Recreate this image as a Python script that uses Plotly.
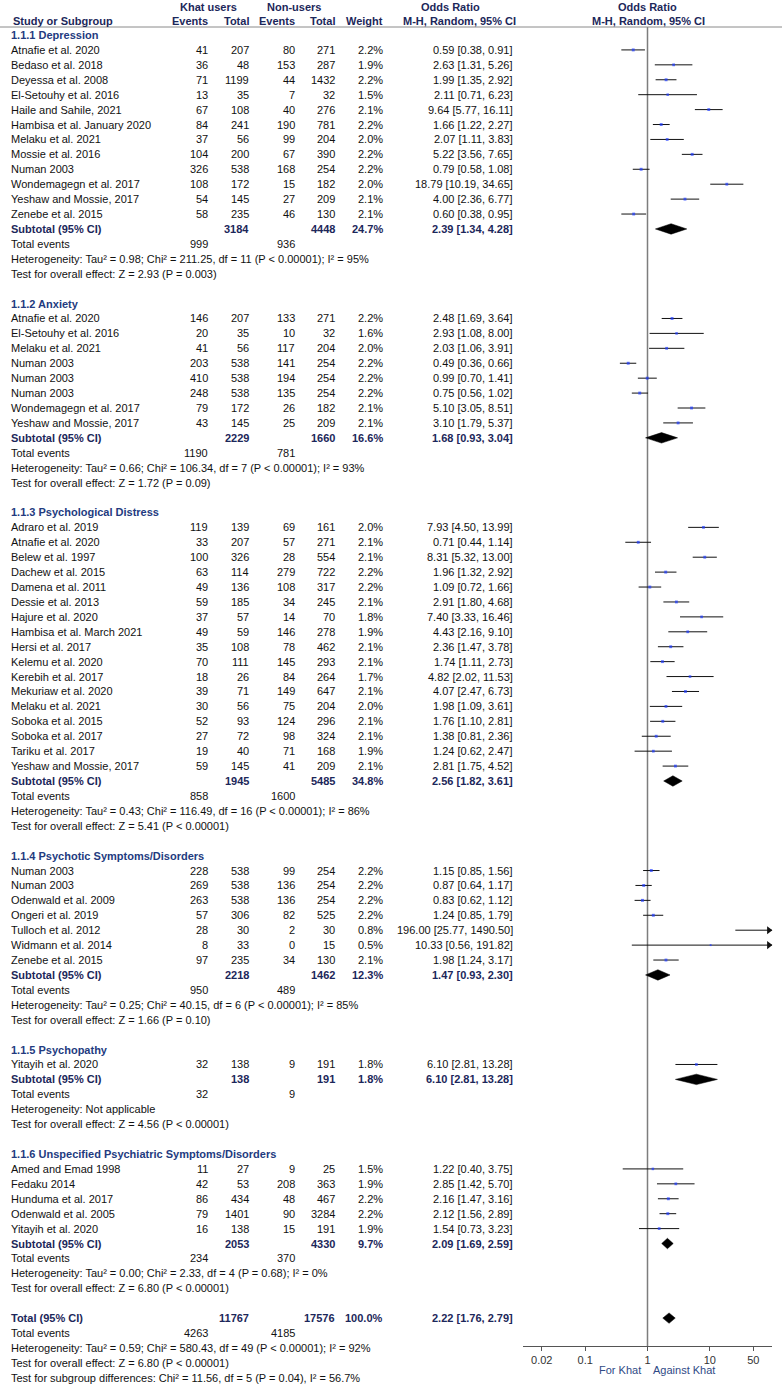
import plotly.graph_objects as go

# ---------------- DATA ----------------
# (study, khat events, khat total, non-user events, non-user total, weight %, OR, lower, upper)
dep_rows = [
    ("Atnafie et al. 2020", 41, 207, 80, 271, 2.2, 0.59, 0.38, 0.91),
    ("Bedaso et al. 2018", 36, 48, 153, 287, 1.9, 2.63, 1.31, 5.26),
    ("Deyessa et al. 2008", 71, 1199, 44, 1432, 2.2, 1.99, 1.35, 2.92),
    ("El-Setouhy et al. 2016", 13, 35, 7, 32, 1.5, 2.11, 0.71, 6.23),
    ("Haile and Sahile, 2021", 67, 108, 40, 276, 2.1, 9.64, 5.77, 16.11),
    ("Hambisa et al. January 2020", 84, 241, 190, 781, 2.2, 1.66, 1.22, 2.27),
    ("Melaku et al. 2021", 37, 56, 99, 204, 2.0, 2.07, 1.11, 3.83),
    ("Mossie et al. 2016", 104, 200, 67, 390, 2.2, 5.22, 3.56, 7.65),
    ("Numan 2003", 326, 538, 168, 254, 2.2, 0.79, 0.58, 1.08),
    ("Wondemagegn et al. 2017", 108, 172, 15, 182, 2.0, 18.79, 10.19, 34.65),
    ("Yeshaw and Mossie, 2017", 54, 145, 27, 209, 2.1, 4.00, 2.36, 6.77),
    ("Zenebe et al. 2015", 58, 235, 46, 130, 2.1, 0.60, 0.38, 0.95),
]
anx_rows = [
    ("Atnafie et al. 2020", 146, 207, 133, 271, 2.2, 2.48, 1.69, 3.64),
    ("El-Setouhy et al. 2016", 20, 35, 10, 32, 1.6, 2.93, 1.08, 8.00),
    ("Melaku et al. 2021", 41, 56, 117, 204, 2.0, 2.03, 1.06, 3.91),
    ("Numan 2003", 203, 538, 141, 254, 2.2, 0.49, 0.36, 0.66),
    ("Numan 2003", 410, 538, 194, 254, 2.2, 0.99, 0.70, 1.41),
    ("Numan 2003", 248, 538, 135, 254, 2.2, 0.75, 0.56, 1.02),
    ("Wondemagegn et al. 2017", 79, 172, 26, 182, 2.1, 5.10, 3.05, 8.51),
    ("Yeshaw and Mossie, 2017", 43, 145, 25, 209, 2.1, 3.10, 1.79, 5.37),
]
pd_rows = [
    ("Adraro et al. 2019", 119, 139, 69, 161, 2.0, 7.93, 4.50, 13.99),
    ("Atnafie et al. 2020", 33, 207, 57, 271, 2.1, 0.71, 0.44, 1.14),
    ("Belew et al. 1997", 100, 326, 28, 554, 2.1, 8.31, 5.32, 13.00),
    ("Dachew et al. 2015", 63, 114, 279, 722, 2.2, 1.96, 1.32, 2.92),
    ("Damena et al. 2011", 49, 136, 108, 317, 2.2, 1.09, 0.72, 1.66),
    ("Dessie et al. 2013", 59, 185, 34, 245, 2.1, 2.91, 1.80, 4.68),
    ("Hajure et al. 2020", 37, 57, 14, 70, 1.8, 7.40, 3.33, 16.46),
    ("Hambisa et al. March 2021", 49, 59, 146, 278, 1.9, 4.43, 2.16, 9.10),
    ("Hersi et al. 2017", 35, 108, 78, 462, 2.1, 2.36, 1.47, 3.78),
    ("Kelemu et al. 2020", 70, 111, 145, 293, 2.1, 1.74, 1.11, 2.73),
    ("Kerebih et al. 2017", 18, 26, 84, 264, 1.7, 4.82, 2.02, 11.53),
    ("Mekuriaw et al. 2020", 39, 71, 149, 647, 2.1, 4.07, 2.47, 6.73),
    ("Melaku et al. 2021", 30, 56, 75, 204, 2.0, 1.98, 1.09, 3.61),
    ("Soboka et al. 2015", 52, 93, 124, 296, 2.1, 1.76, 1.10, 2.81),
    ("Soboka et al. 2017", 27, 72, 98, 324, 2.1, 1.38, 0.81, 2.36),
    ("Tariku et al. 2017", 19, 40, 71, 168, 1.9, 1.24, 0.62, 2.47),
    ("Yeshaw and Mossie, 2017", 59, 145, 41, 209, 2.1, 2.81, 1.75, 4.52),
]
psy_rows = [
    ("Numan 2003", 228, 538, 99, 254, 2.2, 1.15, 0.85, 1.56),
    ("Numan 2003", 269, 538, 136, 254, 2.2, 0.87, 0.64, 1.17),
    ("Odenwald et al. 2009", 263, 538, 136, 254, 2.2, 0.83, 0.62, 1.12),
    ("Ongeri et al. 2019", 57, 306, 82, 525, 2.2, 1.24, 0.85, 1.79),
    ("Tulloch et al. 2012", 28, 30, 2, 30, 0.8, 196.00, 25.77, 1490.50),
    ("Widmann et al. 2014", 8, 33, 0, 15, 0.5, 10.33, 0.56, 191.82),
    ("Zenebe et al. 2015", 97, 235, 34, 130, 2.1, 1.98, 1.24, 3.17),
]
pth_rows = [
    ("Yitayih et al. 2020", 32, 138, 9, 191, 1.8, 6.10, 2.81, 13.28),
]
uns_rows = [
    ("Amed and Emad 1998", 11, 27, 9, 25, 1.5, 1.22, 0.40, 3.75),
    ("Fedaku 2014", 42, 53, 208, 363, 1.9, 2.85, 1.42, 5.70),
    ("Hunduma et al. 2017", 86, 434, 48, 467, 2.2, 2.16, 1.47, 3.16),
    ("Odenwald et al. 2005", 79, 1401, 90, 3284, 2.2, 2.12, 1.56, 2.89),
    ("Yitayih et al. 2020", 16, 138, 15, 191, 1.9, 1.54, 0.73, 3.23),
]

group_titles = ["1.1.1 Depression", "1.1.2 Anxiety", "1.1.3 Psychological Distress",
                "1.1.4 Psychotic Symptoms/Disorders", "1.1.5 Psychopathy",
                "1.1.6 Unspecified Psychiatric Symptoms/Disorders"]
group_rows = [dep_rows, anx_rows, pd_rows, psy_rows, pth_rows, uns_rows]
sub_khat_total = [3184, 2229, 1945, 2218, 138, 2053]
sub_non_total = [4448, 1660, 5485, 1462, 191, 4330]
sub_weight = [24.7, 16.6, 34.8, 12.3, 1.8, 9.7]
sub_or = [2.39, 1.68, 2.56, 1.47, 6.10, 2.09]
sub_lo = [1.34, 0.93, 1.82, 0.93, 2.81, 1.69]
sub_hi = [4.28, 3.04, 3.61, 2.30, 13.28, 2.59]
sub_khat_events = [999, 1190, 858, 950, 32, 234]
sub_non_events = [936, 781, 1600, 489, 9, 370]
sub_heterogeneity = [
    "Heterogeneity: Tau² = 0.98; Chi² = 211.25, df = 11 (P < 0.00001); I² = 95%",
    "Heterogeneity: Tau² = 0.66; Chi² = 106.34, df = 7 (P < 0.00001); I² = 93%",
    "Heterogeneity: Tau² = 0.43; Chi² = 116.49, df = 16 (P < 0.00001); I² = 86%",
    "Heterogeneity: Tau² = 0.25; Chi² = 40.15, df = 6 (P < 0.00001); I² = 85%",
    "Heterogeneity: Not applicable",
    "Heterogeneity: Tau² = 0.00; Chi² = 2.33, df = 4 (P = 0.68); I² = 0%",
]
sub_overall = [
    "Test for overall effect: Z = 2.93 (P = 0.003)",
    "Test for overall effect: Z = 1.72 (P = 0.09)",
    "Test for overall effect: Z = 5.41 (P < 0.00001)",
    "Test for overall effect: Z = 1.66 (P = 0.10)",
    "Test for overall effect: Z = 4.56 (P < 0.00001)",
    "Test for overall effect: Z = 6.80 (P < 0.00001)",
]

total_khat_total, total_non_total, total_weight = 11767, 17576, 100.0
total_or, total_lo, total_hi = 2.22, 1.76, 2.79
total_khat_events, total_non_events = 4263, 4185
total_texts = [
    "Heterogeneity: Tau² = 0.59; Chi² = 580.43, df = 49 (P < 0.00001); I² = 92%",
    "Test for overall effect: Z = 6.80 (P < 0.00001)",
    "Test for subgroup differences: Chi² = 11.56, df = 5 (P = 0.04), I² = 56.7%",
]

axis_ticks = [0.02, 0.1, 1, 10, 50]
axis_ticktext = ["0.02", "0.1", "1", "10", "50"]

# ---------------- LAYOUT CONSTANTS ----------------
W, H = 782, 1384
ROW0_PX, ROW_PX = 35.0, 14.92
FONT = "Liberation Sans, Arial, sans-serif"
FS = 11
C_TXT = "#111111"
C_HEAD = "#1c275a"
C_GRP = "#233b80"
X_NAME, X_KE, X_KT, X_NE, X_NT, X_W, X_OR = 9, 210, 251, 297, 337, 385, 515
AX_LEFT_PX, AX_RIGHT_PX, AX_PX = 523, 772, 1346
RULE_PX = 27
LOGMIN, LOGMAX = -2.0, 2.0

annotations = []


def py(px):
    return (px - ROW0_PX) / ROW_PX


def txt(xpx, y, s, anchor="left", color=C_TXT, bold=False, yref="y"):
    annotations.append(dict(
        x=xpx / W, xref="paper", y=y, yref=yref, text=("<b>%s</b>" % s) if bold else s,
        xanchor=anchor, yanchor="middle", showarrow=False,
        font=dict(family=FONT, size=FS, color=color)))


def fmt_or(o, l, h):
    return "%.2f [%.2f, %.2f]" % (o, l, h)


ci_x, ci_y = [], []
pt_x, pt_y, pt_s = [], [], []
arr_x, arr_y = [], []
dia_x, dia_y = [], []


def diamond(idx, o, l, h):
    dia_x.extend([l, o, h, o, l, None])
    dia_y.extend([idx, idx - 0.35, idx, idx + 0.35, idx, None])


idx = 0
for g, rows in enumerate(group_rows):
    txt(X_NAME, idx, group_titles[g], color=C_GRP, bold=True)
    idx += 1
    for (name, ke, kt, ne, nt, w, o, l, h) in rows:
        txt(X_NAME, idx, name)
        txt(X_KE, idx, str(ke), "right")
        txt(X_KT, idx, str(kt), "right")
        txt(X_NE, idx, str(ne), "right")
        txt(X_NT, idx, str(nt), "right")
        txt(X_W, idx, "%.1f%%" % w, "right")
        txt(X_OR, idx, fmt_or(o, l, h), "right")
        ci_x.extend([l, h, None])
        ci_y.extend([idx, idx, None])
        if o <= 10 ** LOGMAX:
            pt_x.append(o)
            pt_y.append(idx)
            pt_s.append(1.6 + 0.6 * w)
        if h > 10 ** LOGMAX:
            arr_x.append(10 ** (LOGMAX - 0.05))
            arr_y.append(idx)
        idx += 1
    txt(X_NAME, idx, "Subtotal (95% CI)", color=C_HEAD, bold=True)
    txt(X_KT, idx, str(sub_khat_total[g]), "right", C_HEAD, True)
    txt(X_NT, idx, str(sub_non_total[g]), "right", C_HEAD, True)
    txt(X_W, idx, "%.1f%%" % sub_weight[g], "right", C_HEAD, True)
    txt(X_OR, idx, fmt_or(sub_or[g], sub_lo[g], sub_hi[g]), "right", C_HEAD, True)
    diamond(idx, sub_or[g], sub_lo[g], sub_hi[g])
    idx += 1
    txt(X_NAME, idx, "Total events")
    txt(X_KE, idx, str(sub_khat_events[g]), "right")
    txt(X_NE, idx, str(sub_non_events[g]), "right")
    idx += 1
    txt(X_NAME, idx, sub_heterogeneity[g])
    idx += 1
    txt(X_NAME, idx, sub_overall[g])
    idx += 2

txt(X_NAME, idx, "Total (95% CI)", color=C_HEAD, bold=True)
txt(X_KT, idx, str(total_khat_total), "right", C_HEAD, True)
txt(X_NT, idx, str(total_non_total), "right", C_HEAD, True)
txt(X_W, idx, "%.1f%%" % total_weight, "right", C_HEAD, True)
txt(X_OR, idx, fmt_or(total_or, total_lo, total_hi), "right", C_HEAD, True)
diamond(idx, total_or, total_lo, total_hi)
idx += 1
txt(X_NAME, idx, "Total events")
txt(X_KE, idx, str(total_khat_events), "right")
txt(X_NE, idx, str(total_non_events), "right")
idx += 1
for t in total_texts:
    txt(X_NAME, idx, t)
    idx += 1

# header
h1, h2 = py(7), py(21)
txt(208, h1, "Khat users", "center", C_HEAD, True)
txt(294, h1, "Non-users", "center", C_HEAD, True)
txt(450, h1, "Odds Ratio", "center", C_HEAD, True)
txt(647, h1, "Odds Ratio", "center", C_HEAD, True)
txt(X_NAME + 2, h2, "Study or Subgroup", "left", C_HEAD, True)
txt(X_KE, h2, "Events", "right", C_HEAD, True)
txt(X_KT, h2, "Total", "right", C_HEAD, True)
txt(X_NE, h2, "Events", "right", C_HEAD, True)
txt(X_NT, h2, "Total", "right", C_HEAD, True)
txt(X_W, h2, "Weight", "right", C_HEAD, True)
txt(459, h2, "M-H, Random, 95% CI", "center", C_HEAD, True)
txt(648, h2, "M-H, Random, 95% CI", "center", C_HEAD, True)

# favours labels
txt(643, py(1370), "For Khat", "right", "#2f4a86")
txt(651, py(1370), "Against Khat", "left", "#2f4a86")

fig = go.Figure()
# header rule across the full width (auxiliary linear pixel axis)
fig.add_trace(go.Scatter(x=[0, W], y=[py(RULE_PX), py(RULE_PX)], xaxis="x2", yaxis="y",
                         mode="lines", line=dict(color="#8a8a8a", width=1),
                         hoverinfo="skip", showlegend=False))
# line of no effect
fig.add_trace(go.Scatter(x=[1, 1], y=[py(RULE_PX), py(AX_PX)], mode="lines",
                         line=dict(color="#7d7d7d", width=1.5), hoverinfo="skip",
                         showlegend=False))
fig.add_trace(go.Scatter(x=ci_x, y=ci_y, mode="lines", line=dict(color="#111", width=1),
                         hoverinfo="skip", showlegend=False))
fig.add_trace(go.Scatter(x=pt_x, y=pt_y, mode="markers",
                         marker=dict(symbol="square", size=pt_s, color="#1f3cff", line=dict(width=0)),
                         hoverinfo="skip", showlegend=False))
fig.add_trace(go.Scatter(x=arr_x, y=arr_y, mode="markers", cliponaxis=False,
                         marker=dict(symbol="triangle-right", size=7, color="#111", line=dict(width=0)),
                         hoverinfo="skip", showlegend=False))
fig.add_trace(go.Scatter(x=dia_x, y=dia_y, mode="lines", fill="toself", fillcolor="#000",
                         line=dict(color="#000", width=0.5), hoverinfo="skip", showlegend=False))

fig.update_layout(
    width=W, height=H, margin=dict(l=0, r=0, t=0, b=0, autoexpand=False),
    paper_bgcolor="white", plot_bgcolor="rgba(0,0,0,0)",
    annotations=annotations, showlegend=False,
    xaxis=dict(type="log", range=[LOGMIN, LOGMAX], domain=[AX_LEFT_PX / W, AX_RIGHT_PX / W],
               anchor="free", position=1 - AX_PX / H, showline=True, linecolor="#555",
               linewidth=1, showgrid=False, zeroline=False, tickvals=axis_ticks,
               ticktext=axis_ticktext, ticks="outside", ticklen=4, tickcolor="#555",
               tickfont=dict(family=FONT, size=FS, color="#333")),
    xaxis2=dict(range=[0, W], domain=[0, 1], anchor="y", visible=False, showgrid=False,
                zeroline=False),
    yaxis=dict(range=[py(H), py(0)], domain=[0, 1], visible=False, showgrid=False,
               zeroline=False),
)

fig.write_html("out.html", config={"displayModeBar": False},
               post_script="document.body.style.margin='0';document.body.style.overflow='hidden';")
